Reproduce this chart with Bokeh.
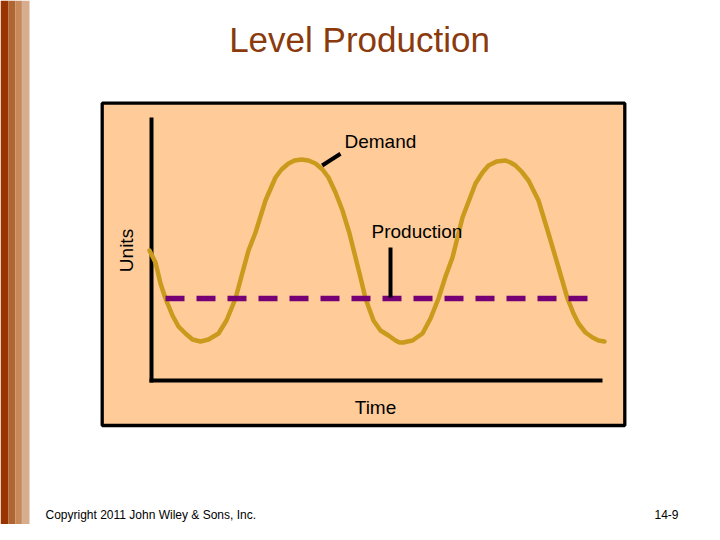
from bokeh.plotting import figure
from bokeh.models import Range1d
from bokeh.core.properties import value
from bokeh.embed import file_html
from bokeh.resources import INLINE

# ---- data ----
time = [-1, 5, 10, 15, 22, 28, 35, 42, 46, 50, 54, 58, 68, 76, 85, 92, 98, 105, 115, 125,
        131, 138, 144, 151, 158, 165, 172, 178, 185, 192, 199, 205, 210, 215, 223, 230,
        238, 245, 249, 253, 257, 262, 272, 280, 288, 295, 302, 312, 325, 332, 338, 346,
        355, 360, 365, 371, 378, 388, 398, 408, 417, 423, 428, 435, 442, 448, 454]
demand = [130, 118, 97, 82, 65, 54, 47, 41, 40, 39, 40, 41, 47, 60, 82, 108, 130, 148, 180, 203,
          211, 217, 220, 221, 220, 217, 211, 203, 188, 170, 147, 123, 103, 82, 60, 50,
          45, 40, 38, 38, 39, 40, 47, 62, 82, 104, 123, 163, 197, 208, 215, 219,
          220, 218, 215, 209, 200, 180, 147, 113, 82, 67, 57, 48, 43, 40, 39]
production_time = [15, 440]
production_level = [82, 82]

title = "Level Production"
footer_left = "Copyright 2011 John Wiley & Sons, Inc."
footer_right = "14-9"

FONT = value("Liberation Sans")

# figure coordinates: time = px - 150, units = 380 - py
p = figure(width=704, height=524, output_backend="svg", toolbar_location=None,
           x_range=Range1d(-150, 554), y_range=Range1d(-144, 380),
           min_border=0, background_fill_color="white", border_fill_color="white")
p.axis.visible = False
p.grid.visible = False
p.outline_line_color = None

# left decorative stripes
stripe_l = [-150, -142, -135, -129, -128]
stripe_r = [-142, -135, -129, -128, -121]
stripe_c = ["#993300", "#AF6633", "#C88858", "#A07048", "#D8AC8C"]
p.quad(left=stripe_l, right=stripe_r, top=380, bottom=-144, fill_color=stripe_c, line_color=None)

# peach panel
p.quad(left=-48.3, right=474.3, top=277.3, bottom=-45, fill_color="#FFCC99",
       line_color="black", line_width=3.3)

# axes
p.line([1, 1], [263, -2], line_color="black", line_width=4, line_cap="butt")
p.line([-1, 452], [0, 0], line_color="black", line_width=4, line_cap="butt")

# demand curve
p.line(time, demand, line_color="#CA9A1C", line_width=4.5, line_join="round", line_cap="round")

# production level
p.line(production_time, production_level, line_color="#750075", line_width=5.5,
       line_dash="19 12", line_cap="butt")

# pointers
p.line([171.7, 190], [215, 226.7], line_color="black", line_width=4, line_cap="butt")
p.line([240, 240], [133, 83], line_color="black", line_width=4, line_cap="butt")

# labels
p.text(x=[209], y=[341], text=[title], text_font=FONT, text_font_size="35px",
       text_color="#8A3A0C", text_align="center", text_baseline="alphabetic")
p.text(x=[194], y=[239], text=["Demand"], text_font=FONT, text_font_size="19px",
       text_color="black", text_align="left", text_baseline="alphabetic")
p.text(x=[221], y=[149.5], text=["Production"], text_font=FONT, text_font_size="19px",
       text_color="black", text_align="left", text_baseline="alphabetic")
p.text(x=[-24], y=[130], text=["Units"], angle=1.5708, text_font=FONT, text_font_size="19px",
       text_color="black", text_align="center", text_baseline="alphabetic")
p.text(x=[225], y=[-27], text=["Time"], text_font=FONT, text_font_size="19px",
       text_color="black", text_align="center", text_baseline="alphabetic")
p.text(x=[-105], y=[-134], text=[footer_left], text_font=FONT, text_font_size="12px",
       text_color="black", text_align="left", text_baseline="alphabetic")
p.text(x=[528], y=[-134], text=[footer_right], text_font=FONT, text_font_size="12px",
       text_color="black", text_align="right", text_baseline="alphabetic")

open("out.html", "w").write(file_html(p, INLINE))
